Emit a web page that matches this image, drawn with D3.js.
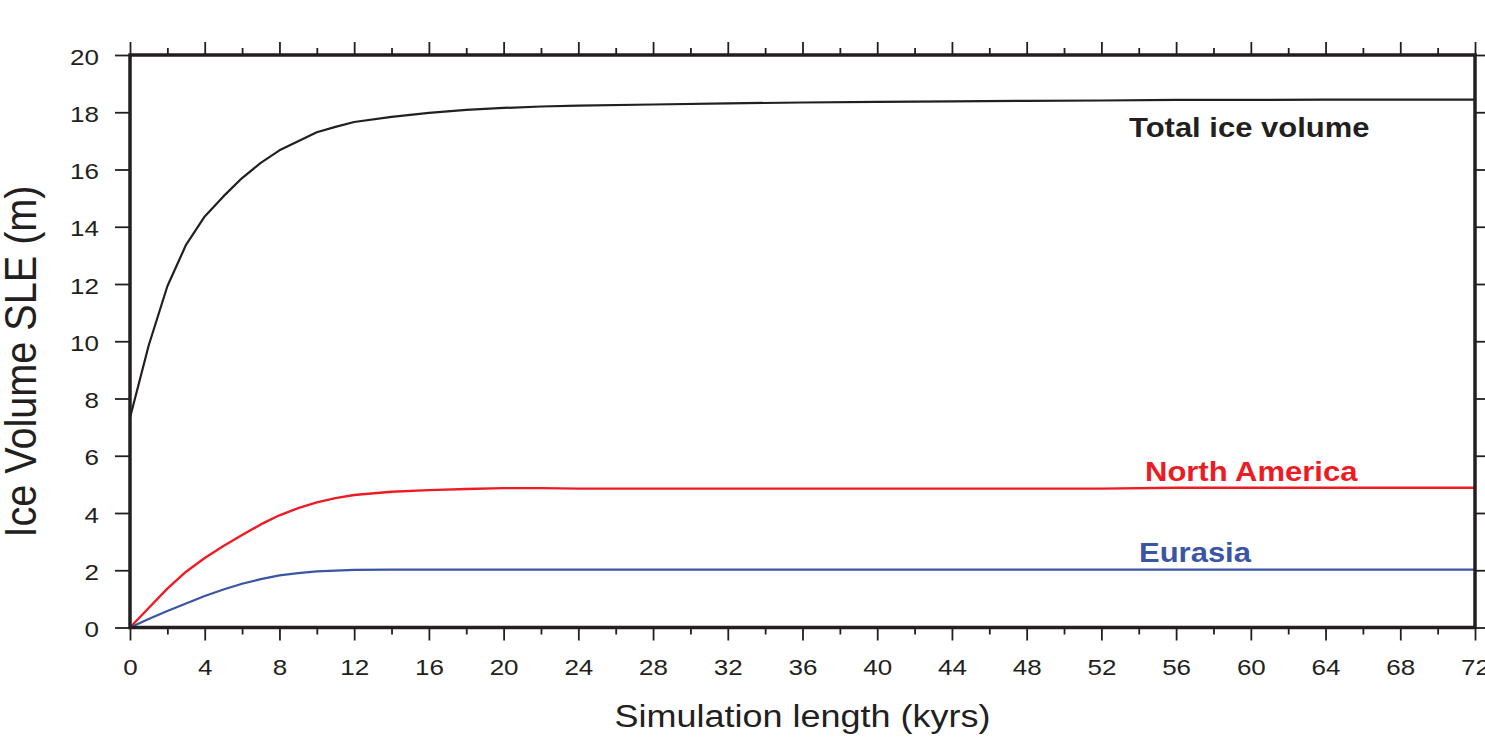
<!DOCTYPE html>
<html>
<head>
<meta charset="utf-8">
<script src="https://cdn.jsdelivr.net/npm/d3@7"></script>
<style>
  body { margin: 0; background: #fff; }
  text { font-family: 'Liberation Sans', Arial, Helvetica, sans-serif; fill: #231f20; }
</style>
</head>
<body>
<svg id="chart" width="1485" height="739"></svg>
<script>
// simulation time (kyrs)
const kyrs = [0, 1, 2, 3, 4, 5, 6, 7, 8, 9, 10, 11, 12, 14, 16, 18, 20, 22, 24, 28, 32, 36, 40, 44, 48, 52, 56, 60, 64, 68, 72];

// ice volume SLE (m)
const totalIce = [7.33, 9.85, 11.92, 13.37, 14.36, 15.06, 15.7, 16.23, 16.67, 16.99, 17.3, 17.49, 17.66, 17.84, 17.98, 18.08, 18.15, 18.2, 18.23, 18.27, 18.31, 18.34, 18.36, 18.38, 18.4, 18.41, 18.43, 18.43, 18.44, 18.44, 18.44];
const northAmerica = [0, 0.68, 1.36, 1.95, 2.43, 2.85, 3.23, 3.6, 3.92, 4.17, 4.37, 4.52, 4.63, 4.74, 4.8, 4.84, 4.87, 4.87, 4.85, 4.85, 4.85, 4.85, 4.85, 4.85, 4.85, 4.85, 4.88, 4.88, 4.88, 4.88, 4.88];
const eurasia = [0, 0.3, 0.58, 0.84, 1.1, 1.33, 1.53, 1.69, 1.82, 1.9, 1.96, 1.99, 2.01, 2.02, 2.02, 2.02, 2.02, 2.02, 2.02, 2.02, 2.02, 2.02, 2.02, 2.02, 2.02, 2.02, 2.02, 2.02, 2.02, 2.02, 2.02];

const series = [
  {name: 'Total ice volume', values: totalIce, color: '#231f20', width: 2.2, labelX: 1129, labelY: 18.44, labelDy: 37},
  {name: 'North America', values: northAmerica, color: '#ed1c24', width: 2.4, labelX: 1145, labelY: 4.88, labelDy: -7},
  {name: 'Eurasia', values: eurasia, color: '#3a55a5', width: 2.2, labelX: 1139, labelY: 2.02, labelDy: -8}
];

const xTicks = d3.range(0, 73, 4);
const xMinorTicks = d3.range(2, 72, 4);
const yTicks = d3.range(0, 21, 2);

const margin = {left: 130, right: 10, top: 55, bottom: 111.5};
const width = 1485, height = 739;
const sy = 0.88; // text is slightly squashed vertically in the original

const svg = d3.select('#chart');

const x = d3.scaleLinear().domain([0, 72]).range([margin.left, width - margin.right]);
const y = d3.scaleLinear().domain([0, 20]).range([height - margin.bottom, margin.top]);

const x0 = x.range()[0], x1 = x.range()[1];
const y0 = y.range()[0], y1 = y.range()[1];

// bottom axis
const gBottom = svg.append('g')
  .attr('transform', 'translate(0,' + y0 + ')')
  .call(d3.axisBottom(x).tickValues(xTicks).tickSize(13).tickSizeOuter(0).tickFormat(d3.format('d')));
gBottom.selectAll('text')
  .attr('y', null).attr('dy', null)
  .attr('transform', 'translate(0,47.5) scale(1,' + sy + ')')
  .style('font-size', '26px');
svg.append('g')
  .attr('transform', 'translate(0,' + y0 + ')')
  .call(d3.axisBottom(x).tickValues(xMinorTicks).tickSize(7).tickSizeOuter(0).tickFormat(''));

// top axis
svg.append('g')
  .attr('transform', 'translate(0,' + y1 + ')')
  .call(d3.axisTop(x).tickValues(xTicks).tickSize(13).tickSizeOuter(0).tickFormat(''));
svg.append('g')
  .attr('transform', 'translate(0,' + y1 + ')')
  .call(d3.axisTop(x).tickValues(xMinorTicks).tickSize(7).tickSizeOuter(0).tickFormat(''));

// left axis
const gLeft = svg.append('g')
  .attr('transform', 'translate(' + x0 + ',0)')
  .call(d3.axisLeft(y).tickValues(yTicks).tickSize(15).tickSizeOuter(0).tickFormat(d3.format('d')));
gLeft.selectAll('text')
  .attr('x', null).attr('dy', null)
  .attr('transform', 'translate(-31,9) scale(1,' + sy + ')')
  .style('font-size', '26px');

// right axis
svg.append('g')
  .attr('transform', 'translate(' + x1 + ',0)')
  .call(d3.axisRight(y).tickValues(yTicks).tickSize(15).tickSizeOuter(0).tickFormat(''));

svg.selectAll('.domain').remove();
svg.selectAll('.tick line').attr('stroke', '#231f20').attr('stroke-width', 1.8);

// lines
const line = d3.line()
  .x((d, i) => x(kyrs[i]))
  .y(d => y(d));

svg.selectAll('.series')
  .data(series)
  .enter()
  .append('path')
  .attr('class', 'series')
  .attr('d', d => line(d.values))
  .attr('fill', 'none')
  .attr('stroke', d => d.color)
  .attr('stroke-width', d => d.width)
  .attr('stroke-linejoin', 'round');

// series labels
svg.selectAll('.series-label')
  .data(series)
  .enter()
  .append('text')
  .attr('class', 'series-label')
  .attr('transform', d => 'translate(' + d.labelX + ',' + (y(d.labelY) + d.labelDy) + ') scale(1,' + sy + ')')
  .style('font-size', '31px')
  .style('font-weight', 'bold')
  .style('fill', d => d.color)
  .text(d => d.name);

// frame
svg.append('rect')
  .attr('x', x0).attr('y', y1)
  .attr('width', x1 - x0).attr('height', y0 - y1)
  .attr('fill', 'none')
  .attr('stroke', '#231f20')
  .attr('stroke-width', 3.5);

// axis titles
svg.append('text')
  .attr('transform', 'translate(' + (x0 + x1) / 2 + ',727) scale(1,' + sy + ')')
  .attr('text-anchor', 'middle')
  .style('font-size', '36px')
  .text('Simulation length (kyrs)');

svg.append('text')
  .attr('transform', 'translate(36,361.5) rotate(-90) scale(0.9,1)')
  .attr('text-anchor', 'middle')
  .style('font-size', '44px')
  .text('Ice Volume SLE (m)');
</script>
</body>
</html>
